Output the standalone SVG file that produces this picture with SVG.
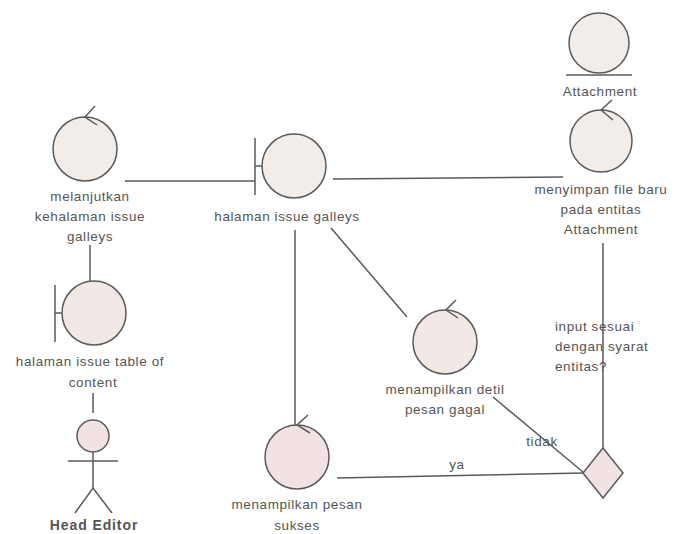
<svg xmlns="http://www.w3.org/2000/svg" width="679" height="534" viewBox="0 0 679 534">
<style>
.s{stroke:#5a5a5a;stroke-width:1.5;fill:none}
.c1{fill:#f2ede9;stroke:#5a5a5a;stroke-width:1.5}
.c2{fill:#f3e2e3;stroke:#5a5a5a;stroke-width:1.5}
.c3{fill:#f2e8e6;stroke:#5a5a5a;stroke-width:1.5}
text{font-family:"Liberation Sans",Arial,sans-serif;font-size:13.5px;fill:#555;text-anchor:middle;letter-spacing:0.6px}
.l{text-anchor:start}
.b{font-weight:bold;font-size:14px;letter-spacing:0.9px}
</style>
<rect width="679" height="534" fill="#fff"/>
<g id="connectors" class="s">
<line x1="125" y1="181" x2="255" y2="181"/>
<line x1="333" y1="179" x2="563" y2="177"/>
<line x1="90" y1="245" x2="90" y2="281"/>
<line x1="93" y1="393" x2="93" y2="413"/>
<line x1="295" y1="230" x2="295" y2="425"/>
<line x1="331" y1="228" x2="407" y2="317"/>
<line x1="603" y1="243" x2="603" y2="448"/>
<line x1="583" y1="472" x2="493" y2="397"/>
<line x1="583" y1="473" x2="337" y2="478"/>
</g>
<g id="attachment">
<circle class="c1" cx="599" cy="43" r="30"/>
<line class="s" x1="566" y1="75" x2="632" y2="75"/>
<text x="600" y="96">Attachment</text>
</g>
<g id="menyimpan">
<circle class="c1" cx="601" cy="141" r="31"/>
<path class="s" d="M612,100 L601,110 L613,120"/>
<text x="601" y="194">menyimpan file baru</text>
<text x="601" y="214">pada entitas</text>
<text x="601" y="234">Attachment</text>
</g>
<g id="melanjutkan">
<circle class="c1" cx="85" cy="149" r="32"/>
<path class="s" d="M95,106 L85,117 L97,125"/>
<text x="90" y="201">melanjutkan</text>
<text x="90" y="221">kehalaman issue</text>
<text x="90" y="241">galleys</text>
</g>
<g id="galleys">
<circle class="c1" cx="294" cy="166" r="32"/>
<line class="s" x1="255" y1="138" x2="255" y2="195"/>
<line class="s" x1="255" y1="166" x2="262" y2="166"/>
<text x="287" y="221">halaman issue galleys</text>
</g>
<g id="tableofcontent">
<circle class="c3" cx="94" cy="313" r="32"/>
<line class="s" x1="55" y1="285" x2="55" y2="342"/>
<line class="s" x1="55" y1="313" x2="62" y2="313"/>
<text x="90" y="366">halaman issue table of</text>
<text x="93" y="387">content</text>
</g>
<g id="headeditor">
<circle class="c2" cx="93" cy="436" r="16"/>
<line class="s" x1="68" y1="461" x2="118" y2="461"/>
<line class="s" x1="93" y1="452" x2="93" y2="488"/>
<path class="s" d="M75,513 L93,488 L112,513"/>
<text class="b" x="94" y="530">Head Editor</text>
</g>
<g id="detilgagal">
<circle class="c3" cx="445" cy="342" r="32"/>
<path class="s" d="M456,300 L446,310 L458,318"/>
<text x="445" y="394">menampilkan detil</text>
<text x="445" y="414">pesan gagal</text>
</g>
<g id="pesansukses">
<circle class="c2" cx="297" cy="457" r="32"/>
<path class="s" d="M308,415 L297,425 L310,433"/>
<text x="297" y="509">menampilkan pesan</text>
<text x="297" y="530">sukses</text>
</g>
<g id="decision">
<polygon class="c2" points="603,448 623,473 603,498 583,473"/>
<text class="l" x="555" y="331">input sesuai</text>
<text class="l" x="555" y="351">dengan syarat</text>
<text class="l" x="555" y="371">entitas?</text>
<text x="542" y="446">tidak</text>
<text x="457" y="469">ya</text>
</g>
</svg>
